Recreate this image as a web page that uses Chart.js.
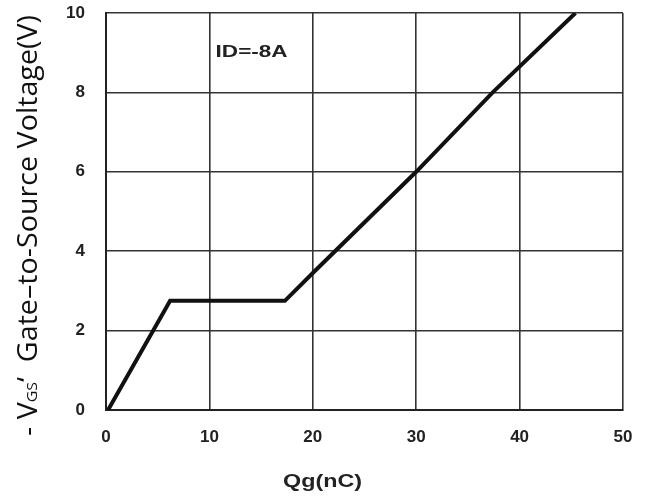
<!DOCTYPE html>
<html>
<head>
<meta charset="utf-8">
<script src="https://cdn.jsdelivr.net/npm/chart.js@4/dist/chart.umd.min.js"></script>
<style>
  html, body { margin: 0; padding: 0; background: #fff; }
  #wrap { width: 646px; height: 499px; position: relative; }
</style>
</head>
<body>
<div id="wrap"><canvas id="gateChart" width="646" height="499"></canvas></div>
<script>
// Gate charge curve
const qgValues = [0.2, 6.2, 17.3, 20, 30, 37.4, 45.4];   // Qg (nC)
const vgsValues = [0, 2.75, 2.75, 3.45, 6, 8, 10];        // -VGS (V)
const xTicks = [0, 10, 20, 30, 40, 50];
const yTicks = [0, 2, 4, 6, 8, 10];
const noteText = "ID=-8A";
const xTitle = "Qg(nC)";
const yTitleParts = [
  { text: "- V", small: false },
  { text: "GS", small: true },
  { text: "\u2018  Gate\u2013to-Source Voltage(V)", small: false }
];

const tickFont = { family: "Liberation Sans, Arial, sans-serif", size: 17, weight: "bold" };

// text squeezed/stretched to a given width (the scan is wider than Arial)
function fitText(ctx, text, x, y, width) {
  const w = ctx.measureText(text).width;
  ctx.save();
  ctx.translate(x, y);
  ctx.scale(width / w, 1);
  ctx.fillText(text, 0, 0);
  ctx.restore();
}

// draws the titles and the ID note
const labelsPlugin = {
  id: "labels",
  afterDraw(chart) {
    const ctx = chart.ctx;
    const xs = chart.scales.x, ys = chart.scales.y;

    ctx.save();
    ctx.fillStyle = "#222";
    ctx.textBaseline = "middle";
    ctx.textAlign = "left";
    ctx.font = "bold 16px 'Liberation Sans', Arial, sans-serif";
    fitText(ctx, noteText, xs.getPixelForValue(10.6), ys.getPixelForValue(9.0), 72);

    ctx.font = "bold 19px 'Liberation Sans', Arial, sans-serif";
    fitText(ctx, xTitle, 283, 482, 79);
    ctx.restore();

    // rotated y title, mixed sizes, fitted to the axis length
    ctx.save();
    ctx.translate(37, 436);
    ctx.rotate(-Math.PI / 2);
    ctx.fillStyle = "#111";
    ctx.textBaseline = "alphabetic";
    ctx.textAlign = "left";
    const fonts = yTitleParts.map(p => (p.small ? "15px" : "27px") + " 'Open Sans', 'Noto Sans', sans-serif");
    let total = 0;
    yTitleParts.forEach((p, i) => { ctx.font = fonts[i]; total += ctx.measureText(p.text).width; });
    ctx.scale(421 / total, 1);
    let pos = 0;
    yTitleParts.forEach((p, i) => {
      ctx.font = fonts[i];
      ctx.fillText(p.text, pos, 0);
      pos += ctx.measureText(p.text).width;
    });
    ctx.restore();
  }
};

new Chart(document.getElementById("gateChart").getContext("2d"), {
  type: "line",
  data: {
    datasets: [{
      data: qgValues.map((q, i) => ({ x: q, y: vgsValues[i] })),
      borderColor: "#111",
      borderWidth: 4,
      pointRadius: 0,
      tension: 0,
      fill: false
    }]
  },
  options: {
    responsive: false,
    animation: false,
    layout: { padding: { left: 0, right: 23, top: 13, bottom: 0 } },
    plugins: { legend: { display: false }, tooltip: { enabled: false } },
    scales: {
      x: {
        type: "linear",
        min: 0, max: 50,
        afterBuildTicks: s => { s.ticks = xTicks.map(v => ({ value: v })); },
        afterFit: s => { s.height = 89; s.paddingLeft = 0; s.paddingRight = 0; },
        grid: { color: "#333", lineWidth: 1.6, drawTicks: false },
        border: { color: "#222", width: 2 },
        ticks: { font: tickFont, color: "#222", padding: 17 }
      },
      y: {
        type: "linear",
        min: 0, max: 10,
        afterBuildTicks: s => { s.ticks = yTicks.map(v => ({ value: v })); },
        afterFit: s => { s.width = 106; s.paddingTop = 0; s.paddingBottom = 0; },
        grid: { color: "#333", lineWidth: 1.6, drawTicks: false },
        border: { color: "#222", width: 2 },
        ticks: { font: tickFont, color: "#222", padding: 21 }
      }
    }
  },
  plugins: [labelsPlugin]
});
</script>
</body>
</html>
